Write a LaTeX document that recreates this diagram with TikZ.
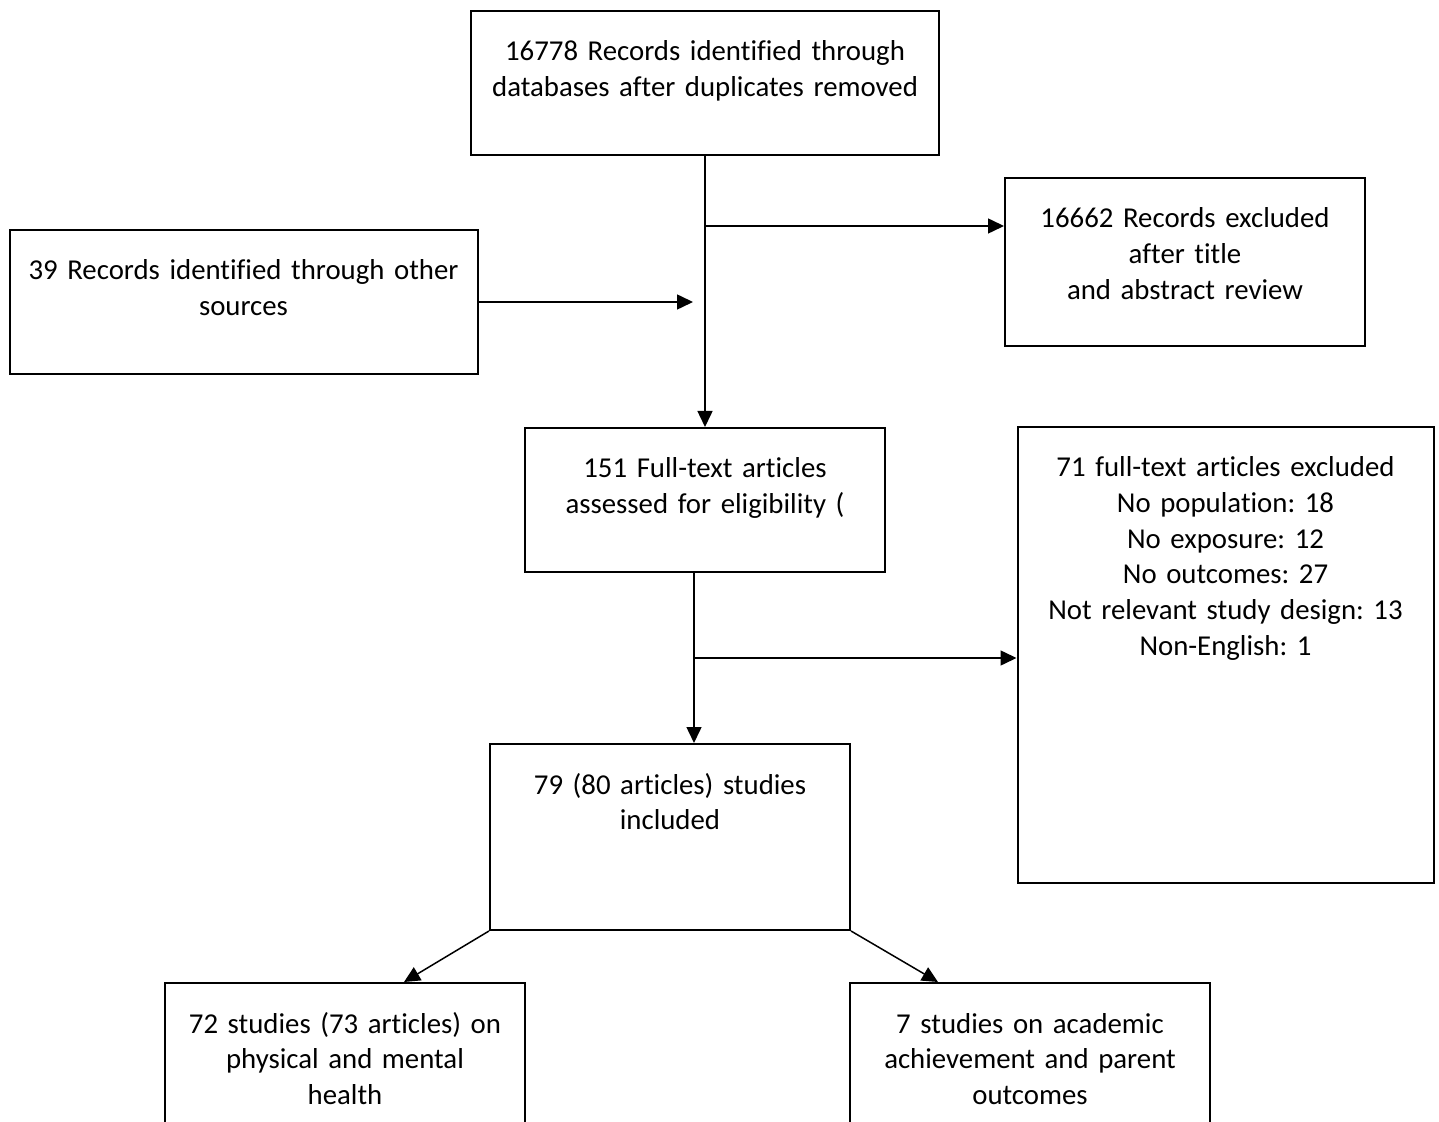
\documentclass[tikz,border=0pt]{standalone}
\usepackage{fontspec}
\setmainfont{Carlito}[Ligatures=NoCommon]
\usepackage{tikz}
\usetikzlibrary{arrows.meta, positioning, calc}
\frenchspacing

\begin{document}
\begin{tikzpicture}[
  x=0.5pt, y=-0.5pt,
  box/.style={draw, line width=1pt, rectangle, anchor=north, align=center, inner xsep=2pt, inner ysep=14.5pt, text height=10.5pt, font=\fontsize{14.4}{17.8}\selectfont},
  arr/.style={-{Triangle[length=8pt, width=7.5pt]}, line width=0.75pt}
]
\useasboundingbox (0,0) rectangle (1439,1122);

\node[box, text width=230pt, text depth=32.5pt] (db) at (705,10) {16778 Records identified through\\ databases after duplicates removed};
\node[box, text width=230pt, text depth=32.5pt] (other) at (243.5,229) {39 Records identified through other\\ sources};
\node[box, text width=176pt, text depth=44.5pt] (exA) at (1185,177) {16662 Records excluded\\ after title\\ and abstract review};
\node[box, text width=176pt, text depth=32.5pt, below=135.5pt of db] (full) {151 Full-text articles\\ assessed for eligibility (};
\node[box, text width=204pt, text depth=188.5pt] (exB) at (1225.5,426) {71 full-text articles excluded\\ No population: 18\\ No exposure: 12\\ No outcomes: 27\\ Not relevant study design: 13\\ Non-English: 1};
\node[box, text width=176pt, text depth=53.5pt] (incl) at (670,743) {79 (80 articles) studies\\ included};
\node[box, text width=176pt, text depth=60pt] (phys) at (345,982) {72 studies (73 articles) on\\ physical and mental\\ health};
\node[box, text width=176pt, text depth=60pt] (acad) at (1030,982) {7 studies on academic\\ achievement and parent\\ outcomes};

% junctions on the main line
\coordinate (j1) at ([yshift=-35pt]db.south);
\coordinate (j2) at ([xshift=-6pt]db.south);
\coordinate (j3) at ([xshift=-5.5pt,yshift=-42.5pt]full.south);

\draw[arr] (db.south) -- (full.north);
\draw[arr] (j1) -- (j1 -| exA.west);
\draw[arr] (other.east) -- (other.east -| j2);
\draw[arr] ([xshift=-5.5pt]full.south) -- ([xshift=12pt]incl.north);
\draw[arr] (j3) -- (j3 -| exB.west);
\draw[arr] (incl.south west) -- ([xshift=29.5pt]phys.north);
\draw[arr] (incl.south east) -- ([xshift=-46pt]acad.north);
\end{tikzpicture}
\end{document}
